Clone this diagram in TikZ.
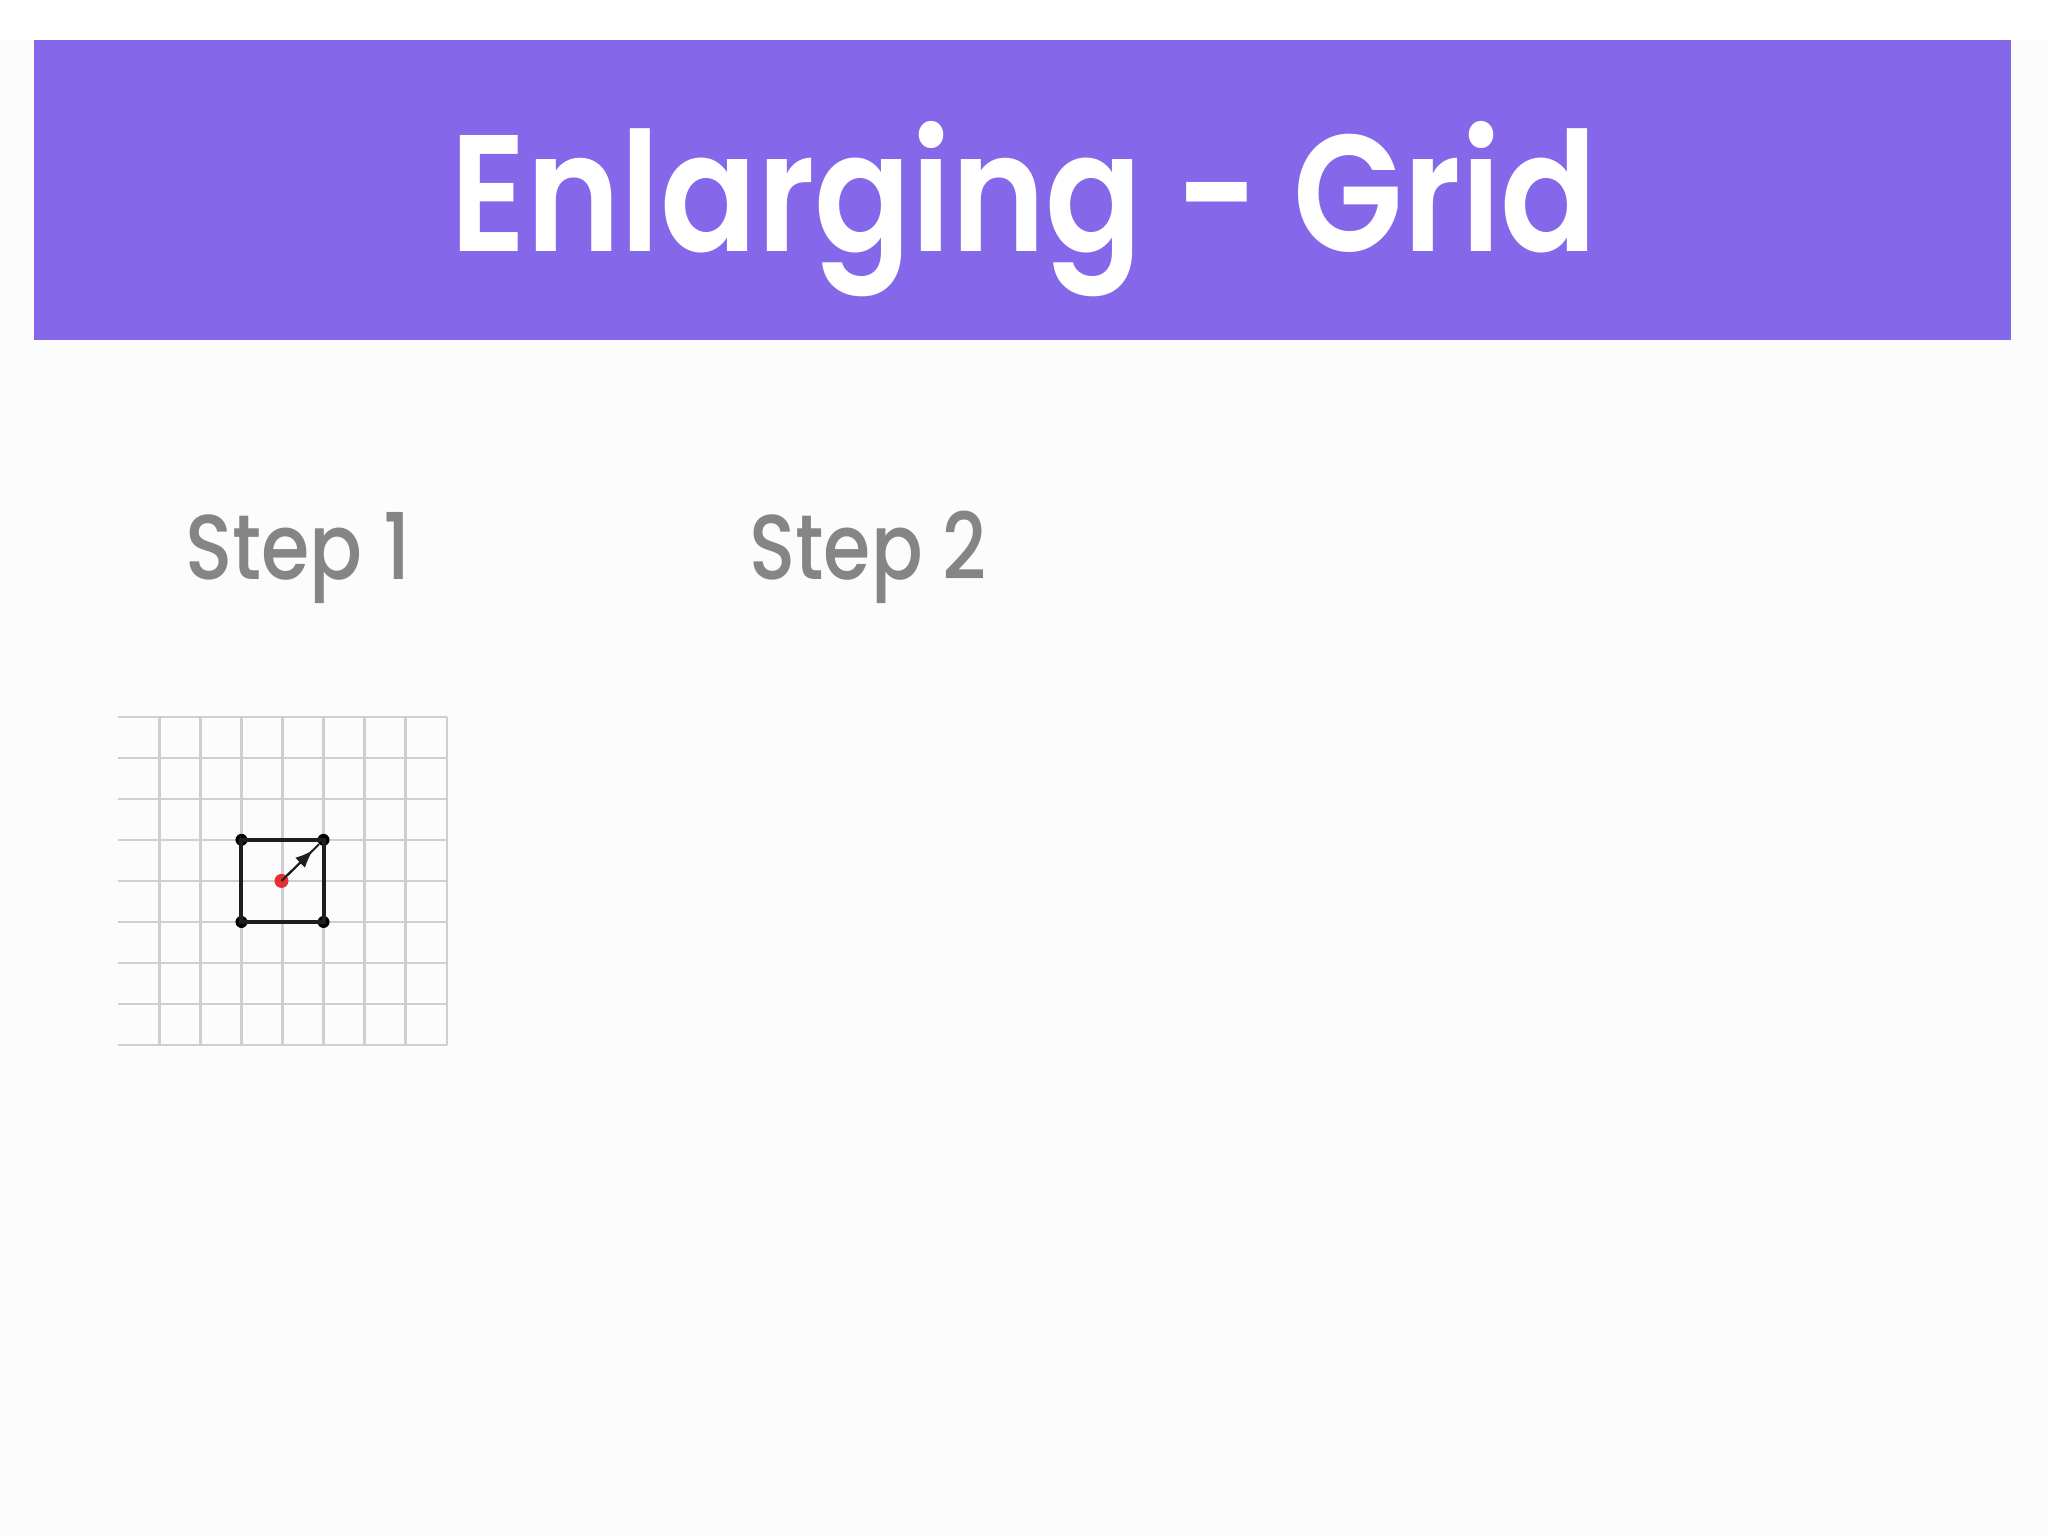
\documentclass[tikz,border=0pt]{standalone}
\usepackage{fontspec}
\setmainfont{Poppins}
\newfontfamily\headfont{Poppins SemiBold}
\newfontfamily\labfont{Poppins Medium}
\usetikzlibrary{calc,arrows.meta}
\definecolor{hdr}{RGB}{133,104,233}
\definecolor{stepgray}{RGB}{133,133,133}
\definecolor{gridgray}{RGB}{208,206,208}
\definecolor{bg}{RGB}{253,252,253}
\definecolor{reddot}{RGB}{228,48,48}
\definecolor{ink}{RGB}{30,30,30}
\tikzset{
  titletext/.style={text=white, inner sep=0pt, anchor=base, font=\headfont\fontsize{83}{90}\selectfont},
  steplabel/.style={text=stepgray, inner sep=0pt, anchor=base west, font=\labfont\fontsize{46}{52}\selectfont},
  gridline/.style={draw=gridgray, line width=1.2pt},
  edge/.style={draw=ink, line width=2pt},
  vertex/.style={circle, fill=black, inner sep=0pt, minimum size=6pt},
  origin/.style={circle, fill=reddot, inner sep=0pt, minimum size=7pt},
  ray/.style={draw=ink, line width=1pt}
}
\begin{document}
\begin{tikzpicture}[x=0.5pt,y=-0.5pt]
\useasboundingbox (0,0) rectangle (2048,1536);
\fill[bg] (0,0) rectangle (2048,1536);
\fill[white] (0,0) rectangle (2048,40);
\fill[hdr] (34,40.5) rectangle (2011,340);
\node[titletext] (title) at (1024,251) {\scalebox{0.86}[1]{Enlarging - Grid}};
\node[steplabel] (s1) at (185,579) {\scalebox{0.85}[1]{Step 1}};
\node[steplabel] (s2) at (749,579) {\scalebox{0.83}[1]{Step 2}};
% grid
\foreach \i in {1,...,8}
  \draw[gridline] ({118.3+\i*41.05},716.7) -- ({118.3+\i*41.05},1045);
\foreach \j in {0,...,8}
  \draw[gridline] (118.3,{716.7+\j*41.05}) -- (446.7,{716.7+\j*41.05});
% square
\node[vertex] (tl) at (241.45,839.85) {};
\node[vertex] (tr) at (323.55,839.85) {};
\node[vertex] (br) at (323.55,921.95) {};
\node[vertex] (bl) at (241.45,921.95) {};
\draw[edge] (tl.center) -- (tr.center) -- (br.center) -- (bl.center) -- cycle;
\node[origin] (o) at (281.5,880.9) {};
\draw[ray] (o) -- (tr);
\draw[ray, -{Latex[length=9pt,width=7pt]}] (o.center) -- ($(o.center)!0.75!(tr.center)$);
\end{tikzpicture}
\end{document}
